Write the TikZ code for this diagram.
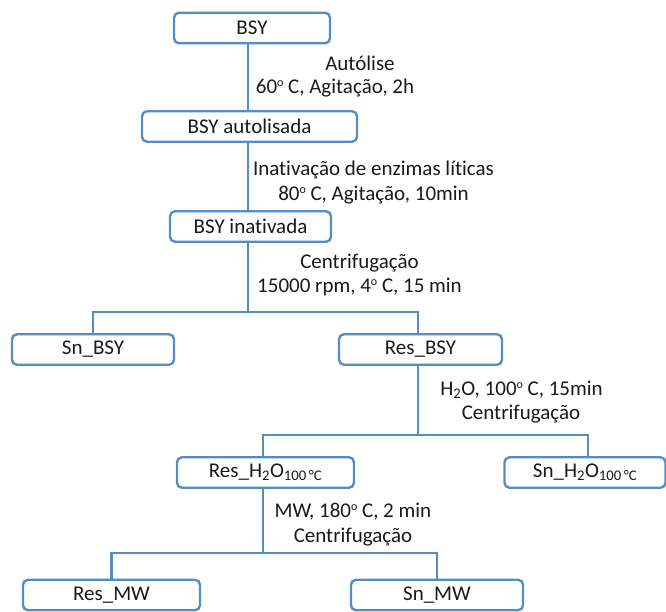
\documentclass[tikz,border=0pt]{standalone}
\usepackage{fontspec}
\setmainfont{Carlito}[Ligatures={NoCommon}]
\usetikzlibrary{calc}
\definecolor{bl}{RGB}{84,141,194}
\definecolor{txt}{RGB}{25,25,25}
\tikzset{
  box/.style={draw=bl, line width=2.4pt, rounded corners=5pt, fill=white,
    minimum height=30.5pt, inner sep=0pt, text=txt, font=\fontsize{21}{25}\selectfont},
  conn/.style={draw=bl, line width=2.4pt},
  lab/.style={text=txt, font=\fontsize{21}{25}\selectfont, inner sep=0pt, anchor=center}
}
\newcommand{\dg}{\raisebox{0.33em}{\fontsize{12}{12}\selectfont o}}
\begin{document}
\begin{tikzpicture}[x=1pt,y=-1pt]
\useasboundingbox (0,0) rectangle (666,612);
% vertical line positions
\coordinate (xa) at (248,0);
\coordinate (xb) at (418,0);
\coordinate (xc) at (263,0);
% nodes
\node[box, minimum width=156pt] (bsy) at (252,28) {BSY};
\node[box, minimum width=215pt] (aut) at (249.5,126.5) {BSY autolisada};
\node[box, minimum width=161pt] (inat) at (250.5,226.5) {BSY inativada};
\node[box, minimum width=162pt] (snbsy) at (93,349.5) {Sn\_BSY};
\node[box, minimum width=163pt] (resbsy) at (420.5,349.5) {Res\_BSY};
\node[box, minimum width=177pt] (resh) at (265.5,472.5) {Res\_H\textsubscript{2}O\textsubscript{100\,°C}};
\node[box, minimum width=161pt] (snh) at (585,472.5) {Sn\_H\textsubscript{2}O\textsubscript{100\,°C}};
\node[box, minimum width=177pt] (resmw) at (111.5,595) {Res\_MW};
\node[box, minimum width=172pt] (snmw) at (437,595) {Sn\_MW};
% branch points
\coordinate (b1) at (248,312);
\coordinate (b2) at (418,435);
\coordinate (b3) at (263,553);
% connectors
\draw[conn] (bsy.south -| xa) -- (aut.north -| xa);
\draw[conn] (aut.south -| xa) -- (inat.north -| xa);
\draw[conn] (inat.south -| xa) -- (b1);
\draw[conn] (snbsy.north) |- (b1) -| (resbsy.north -| xb);
\draw[conn] (resbsy.south -| xb) -- (b2);
\draw[conn] (resh.north -| xc) |- (b2) -| ($(snh.north)+(3,0)$);
\draw[conn] (resh.south -| xc) -- (b3);
\draw[conn] (resmw.north) |- (b3) -| (snmw.north);
% labels
\node[lab] (l1) at (360,63) {Autólise};
\node[lab] (l2) at (335,88) {60\dg\ C, Agitação, 2h};
\node[lab] (l3) at (373.5,170) {Inativação de enzimas líticas};
\node[lab] (l4) at (373.5,195) {80\dg\ C, Agitação, 10min};
\node[lab] (l5) at (359.5,263) {Centrifugação};
\node[lab] (l6) at (359.5,287) {15000 rpm, 4\dg\ C, 15 min};
\node[lab] (l7) at (521.5,390) {H\textsubscript{2}O, 100\dg\ C, 15min};
\node[lab] (l8) at (521,414) {Centrifugação};
\node[lab] (l9) at (353,512) {MW, 180\dg\ C, 2 min};
\node[lab] (l10) at (353,537) {Centrifugação};
\end{tikzpicture}
\end{document}
